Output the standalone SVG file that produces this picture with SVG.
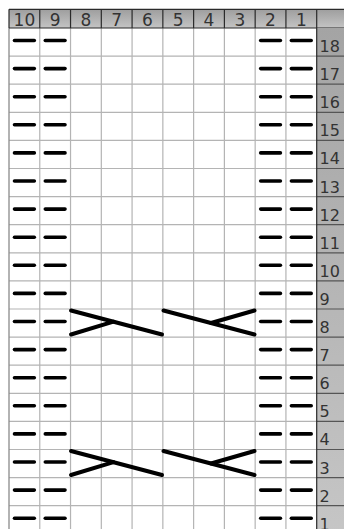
<svg xmlns="http://www.w3.org/2000/svg" xmlns:xlink="http://www.w3.org/1999/xlink" width="344" height="529" viewBox="0 0 344 529">
<defs>
<linearGradient id="hg" x1="0" y1="0" x2="0" y2="1">
<stop offset="0" stop-color="#9e9e9e"/>
<stop offset="1" stop-color="#c4c4c4"/>
</linearGradient>
<linearGradient id="rg" x1="0" y1="0" x2="0" y2="1">
<stop offset="0" stop-color="#a4a4a4"/>
<stop offset="1" stop-color="#c6c6c6"/>
</linearGradient>
<g id="purlrow">
<line class="purl" x1="14.5" y1="0" x2="34.3" y2="0"/>
<line class="purl" x1="45.3" y1="0" x2="65" y2="0"/>
<line class="purl" x1="260.7" y1="0" x2="280.4" y2="0"/>
<line class="purl" x1="291.4" y1="0" x2="311.2" y2="0"/>
</g>
<g id="cablerow">
<line class="cable" x1="71" y1="310.5" x2="162" y2="334.5"/>
<line class="cable" x1="71" y1="334.5" x2="113.5" y2="321.7"/>
<line class="cable" x1="163.5" y1="310.5" x2="254.5" y2="334.5"/>
<line class="cable" x1="254.5" y1="310.5" x2="211" y2="323"/>
</g>
</defs>
<style>
.grid{stroke:#b4b4b4;stroke-width:1.2;fill:none}
.dark{stroke:#2a2a2a;stroke-width:1.2;fill:none}
.rdiv{stroke:#555;stroke-width:1.2}
.purl{stroke:#000;stroke-width:3.6;stroke-linecap:round}
.cable{stroke:#000;stroke-width:4;stroke-linecap:round}
.hnum{font-family:"DejaVu Sans",sans-serif;font-size:17px;fill:#333;text-anchor:middle}
.rnum{font-family:"DejaVu Sans",sans-serif;font-size:16px;fill:#333}
</style>
<rect x="0" y="0" width="344" height="529" fill="#fff"/>

<g id="body-grid">
<rect x="9" y="28" width="307.7" height="510" fill="#fff"/>
<path class="grid" d="M39.77 28V529M70.54 28V529M101.31 28V529M132.08 28V529M162.85 28V529M193.62 28V529M224.39 28V529M255.16 28V529M285.93 28V529"/>
<path class="grid" d="M9 56.1H316.7M9 84.2H316.7M9 112.3H316.7M9 140.4H316.7M9 168.5H316.7M9 196.6H316.7M9 224.7H316.7M9 252.8H316.7M9 280.9H316.7M9 309H316.7M9 337.1H316.7M9 365.2H316.7M9 393.3H316.7M9 421.4H316.7M9 449.5H316.7M9 477.6H316.7M9 505.7H316.7"/>
<line x1="9" y1="28" x2="9" y2="529" stroke="#8a8a8a" stroke-width="1.3"/>
</g>

<g id="header">
<rect x="9" y="9.3" width="335" height="18.7" fill="url(#hg)"/>
<path class="dark" d="M9 9.3H344M9 28H344M9 9.3V28M39.77 9.3V28M70.54 9.3V28M101.31 9.3V28M132.08 9.3V28M162.85 9.3V28M193.62 9.3V28M224.39 9.3V28M255.16 9.3V28M285.93 9.3V28M316.7 9.3V28"/>
<text class="hnum" x="24.4" y="26">10</text>
<text class="hnum" x="55.2" y="26">9</text>
<text class="hnum" x="85.9" y="26">8</text>
<text class="hnum" x="116.7" y="26">7</text>
<text class="hnum" x="147.5" y="26">6</text>
<text class="hnum" x="178.2" y="26">5</text>
<text class="hnum" x="209" y="26">4</text>
<text class="hnum" x="239.8" y="26">3</text>
<text class="hnum" x="270.5" y="26">2</text>
<text class="hnum" x="301.3" y="26">1</text>
</g>

<g id="row-numbers">
<rect x="316.7" y="28" width="27.3" height="510" fill="url(#rg)"/>
<path class="rdiv" d="M316.7 56.1H344M316.7 84.2H344M316.7 112.3H344M316.7 140.4H344M316.7 168.5H344M316.7 196.6H344M316.7 224.7H344M316.7 252.8H344M316.7 280.9H344M316.7 309H344M316.7 337.1H344M316.7 365.2H344M316.7 393.3H344M316.7 421.4H344M316.7 449.5H344M316.7 477.6H344M316.7 505.7H344"/>
<line x1="316.7" y1="28" x2="316.7" y2="529" stroke="#2a2a2a" stroke-width="1.2"/>
<text class="rnum" x="319.5" y="52">18</text>
<text class="rnum" x="319.5" y="80.1">17</text>
<text class="rnum" x="319.5" y="108.2">16</text>
<text class="rnum" x="319.5" y="136.3">15</text>
<text class="rnum" x="319.5" y="164.4">14</text>
<text class="rnum" x="319.5" y="192.5">13</text>
<text class="rnum" x="319.5" y="220.6">12</text>
<text class="rnum" x="319.5" y="248.7">11</text>
<text class="rnum" x="319.5" y="276.8">10</text>
<text class="rnum" x="319.5" y="304.9">9</text>
<text class="rnum" x="319.5" y="333">8</text>
<text class="rnum" x="319.5" y="361.1">7</text>
<text class="rnum" x="319.5" y="389.2">6</text>
<text class="rnum" x="319.5" y="417.3">5</text>
<text class="rnum" x="319.5" y="445.4">4</text>
<text class="rnum" x="319.5" y="473.5">3</text>
<text class="rnum" x="319.5" y="501.6">2</text>
<text class="rnum" x="319.5" y="529.7">1</text>
</g>

<g id="purl-stitches">
<use href="#purlrow" y="40.5"/>
<use href="#purlrow" y="68.6"/>
<use href="#purlrow" y="96.7"/>
<use href="#purlrow" y="124.8"/>
<use href="#purlrow" y="152.9"/>
<use href="#purlrow" y="181"/>
<use href="#purlrow" y="209.1"/>
<use href="#purlrow" y="237.2"/>
<use href="#purlrow" y="265.3"/>
<use href="#purlrow" y="293.4"/>
<use href="#purlrow" y="321.5"/>
<use href="#purlrow" y="349.6"/>
<use href="#purlrow" y="377.7"/>
<use href="#purlrow" y="405.8"/>
<use href="#purlrow" y="433.9"/>
<use href="#purlrow" y="462"/>
<use href="#purlrow" y="490.1"/>
<use href="#purlrow" y="518.2"/>
</g>

<g id="cables">
<use href="#cablerow"/>
<use href="#cablerow" y="140.5"/>
</g>
</svg>
